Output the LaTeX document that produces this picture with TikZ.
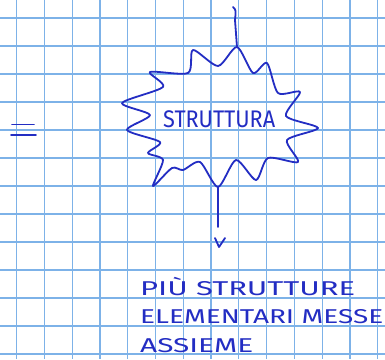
\documentclass[tikz,border=0pt]{standalone}
\usepackage{graphicx}
\usepackage{fontspec}
\setmainfont{Fira Sans}
\definecolor{gridblue}{RGB}{125,178,232}
\definecolor{ink}{RGB}{35,45,195}
\begin{document}
\begin{tikzpicture}[x=1pt,y=-1pt,
  gridline/.style={draw=gridblue, line width=1.2pt},
  inkline/.style={draw=ink, line width=1.8pt, line cap=round, line join=round},
  handtext/.style={text=ink, inner sep=0pt, anchor=base west, font=\fontsize{20}{20}\selectfont},
  startext/.style={text=ink, inner sep=0pt, anchor=base west, font=\fontsize{24}{24}\selectfont}]
\fill[white] (0,0) rectangle (385,359);
\useasboundingbox (0,0) rectangle (385,359);
% squared paper
\foreach \i in {0,...,13} \draw[gridline] ({16.7+27.77*\i},0) -- ({16.7+27.77*\i},359);
\foreach \j in {0,...,12} \draw[gridline] (0,{18+28*\j}) -- (385,{18+28*\j});
% equals sign
\draw[inkline] (12,124.5) -- (34,124.5);
\draw[inkline] (11,135) -- (36,135);
% star outline
\draw[inkline] plot[smooth cycle, tension=0.45] coordinates {
  (237,47) (253,73) (267,63) (278,93) (300,92) (286,116) (318,128) (287,140)
  (298,162) (268,158) (256,180) (236,160) (218,187) (200,162) (183,170) (172,168)
  (153,186) (163,160) (148,153) (160,142) (127,130) (150,115) (122,103) (163,87)
  (150,72) (188,73) (193,50) (218,66)};
\coordinate (startop) at (237,47);
\coordinate (starbot) at (218,187);
\node[startext] (struttura) at (163,127) {\resizebox{112pt}{\height}{STRUTTURA}};
% connectors
\coordinate (in) at (233,7);
\coordinate (out) at (218,227);
\draw[inkline] (in) .. controls (236,10) .. (235,20) -- (startop);
\draw[inkline] (starbot) -- (out);
\coordinate (vl) at (215,238);
\coordinate (vb) at (219,247);
\coordinate (vr) at (225,238);
\draw[inkline] (vl) -- (vb) -- (vr);
% caption
\node[handtext] (l1) at (140,295) {\resizebox{215pt}{\height}{PIÙ STRUTTURE}};
\node[handtext] (l2) at (140,323) {\resizebox{243pt}{\height}{ELEMENTARI MESSE}};
\node[handtext] (l3) at (140,352) {\resizebox{113pt}{\height}{ASSIEME}};
\end{tikzpicture}
\end{document}
